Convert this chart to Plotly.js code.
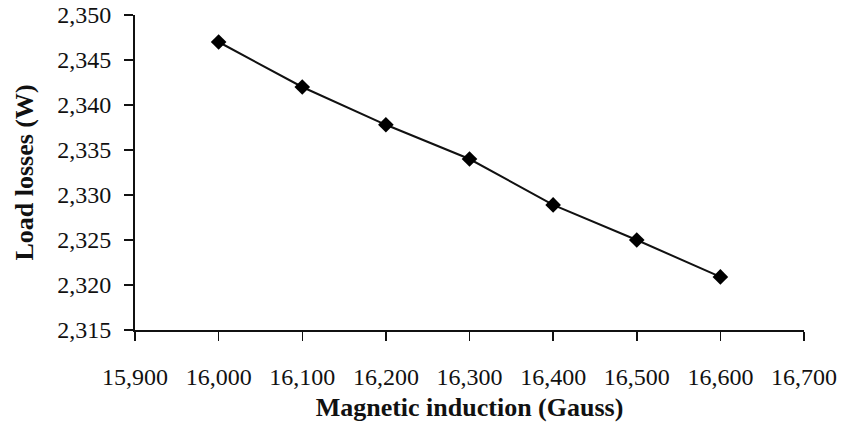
<!DOCTYPE html>
<html>
<head>
<meta charset="utf-8">
<script src="https://cdn.plot.ly/plotly-3.0.1.min.js"></script>
<style>html,body{margin:0;padding:0;background:#fff;}#chart{width:847px;height:444px;}</style>
</head>
<body>
<div id="chart"></div>
<script>
const magneticInduction = [16000, 16100, 16200, 16300, 16400, 16500, 16600];
const loadLosses = [2347, 2342, 2337.8, 2334, 2328.9, 2325, 2320.9];
const xTicks = [15900, 16000, 16100, 16200, 16300, 16400, 16500, 16600, 16700];
const yTicks = [2315, 2320, 2325, 2330, 2335, 2340, 2345, 2350];

const font = '"Liberation Serif", "Times New Roman", serif';

const trace = {
  x: magneticInduction,
  y: loadLosses,
  type: 'scatter',
  mode: 'lines+markers',
  line: {color: '#111', width: 2},
  marker: {symbol: 'diamond', size: 12, color: '#000'},
  hoverinfo: 'x+y'
};

const layout = {
  width: 847,
  height: 444,
  margin: {l: 135, r: 43, t: 15, b: 114},
  paper_bgcolor: '#fff',
  plot_bgcolor: '#fff',
  showlegend: false,
  font: {family: font, color: '#111', size: 24},
  xaxis: {
    range: [15900, 16700],
    tickvals: xTicks,
    tickformat: ',d',
    showgrid: false,
    zeroline: false,
    showline: true,
    linecolor: '#111',
    linewidth: 2,
    ticks: 'outside',
    ticklen: 9,
    tickwidth: 1.5,
    tickcolor: '#111',
    ticklabelstandoff: 15,
    tickfont: {family: font, size: 24, color: '#111'},
    title: {text: '<b>Magnetic induction (Gauss)</b>', font: {family: font, size: 26, color: '#111'}, standoff: 9}
  },
  yaxis: {
    range: [2315, 2350],
    tickvals: yTicks,
    tickformat: ',d',
    showgrid: false,
    zeroline: false,
    showline: true,
    linecolor: '#111',
    linewidth: 2,
    ticks: 'outside',
    ticklen: 9,
    tickwidth: 1.5,
    tickcolor: '#111',
    ticklabelstandoff: 8,
    tickfont: {family: font, size: 24, color: '#111'},
    title: {text: '<b>Load losses (W)</b>', font: {family: font, size: 26, color: '#111'}, standoff: 16}
  }
};

Plotly.newPlot('chart', [trace], layout, {displayModeBar: false, staticPlot: true});
</script>
</body>
</html>
